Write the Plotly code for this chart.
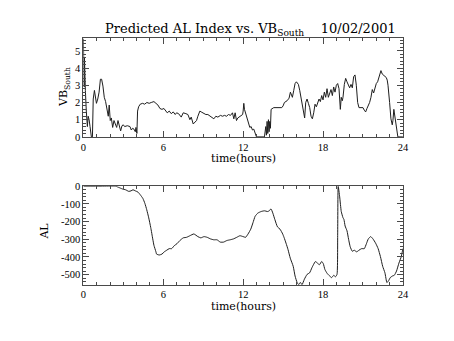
import plotly.graph_objects as go

# Southward IMF component (VB_South) through the day
hours_vb = [0.0, 0.02, 0.04, 0.06, 0.08, 0.1, 0.15, 0.22, 0.3, 0.36, 0.43, 0.5, 0.6, 0.68,
            0.74, 0.83, 0.9, 0.98, 1.08, 1.18, 1.28, 1.37, 1.47, 1.57, 1.67, 1.77, 1.87,
            1.94, 1.97, 2.02, 2.1, 2.2, 2.3, 2.4, 2.5, 2.6, 2.7, 2.8, 2.9, 3.0, 3.1, 3.3,
            3.5, 3.6, 3.7, 3.8, 3.9, 3.95, 4.02, 4.07, 4.15, 4.27, 4.45, 4.6, 4.77, 4.94,
            5.1, 5.3, 5.45, 5.6, 5.75, 5.9, 6.05, 6.2, 6.3, 6.45, 6.6, 6.75, 6.9, 7.0,
            7.15, 7.35, 7.5, 7.7, 7.85, 8.0, 8.1, 8.25, 8.35, 8.5, 8.6, 8.75, 8.85, 9.0,
            9.2, 9.35, 9.5, 9.65, 9.8, 9.95, 10.1, 10.3, 10.45, 10.6, 10.75, 10.9, 11.05,
            11.2, 11.3, 11.4, 11.5, 11.6, 11.7, 11.85, 11.96, 12.0, 12.05, 12.1, 12.2,
            12.3, 12.4, 12.5, 12.6, 12.7, 12.8, 12.9, 13.0, 13.6, 13.7, 13.75, 13.8,
            13.85, 13.9, 13.95, 14.0, 14.05, 14.1, 14.3, 14.6, 14.9, 15.0, 15.1, 15.3,
            15.45, 15.55, 15.62, 15.7, 15.8, 15.9, 16.0, 16.15, 16.25, 16.35, 16.45,
            16.55, 16.62, 16.7, 16.8, 16.9, 17.0, 17.1, 17.2, 17.3, 17.4, 17.5, 17.6,
            17.7, 17.8, 17.9, 18.0, 18.1, 18.2, 18.3, 18.4, 18.5, 18.6, 18.7, 18.8, 18.9,
            19.0, 19.1, 19.2, 19.3, 19.37, 19.45, 19.5, 19.6, 19.7, 19.8, 19.9, 20.0,
            20.1, 20.2, 20.3, 20.4, 20.5, 20.6, 20.7, 20.9, 21.0, 21.1, 21.2, 21.3, 21.4,
            21.5, 21.6, 21.7, 21.8, 21.9, 22.0, 22.1, 22.2, 22.3, 22.35, 22.45, 22.55,
            22.65, 22.75, 22.82, 22.88, 23.0, 23.1, 23.2, 23.25, 23.32, 23.4, 23.5,
            23.62, 24.0]
vb_south = [5.7, 3.0, 5.5, 2.9, 4.6, 2.8, 2.7, 1.5, 0.6, 1.2, 1.0, 0.6, 0.0, 0.0,
            2.2, 2.7, 2.4, 1.95, 2.2, 2.6, 3.35, 3.35, 2.95, 2.3, 2.05, 1.7, 1.2,
            1.85, 1.2, 0.95, 1.1, 0.55, 0.95, 0.75, 0.55, 0.95, 0.7, 0.35, 0.65, 0.7,
            0.6, 0.65, 0.6, 0.4, 0.5, 0.45, 0.3, 0.55, 0.2, 1.5, 1.75, 1.9, 1.95, 1.9,
            2.0, 1.95, 2.0, 2.05, 1.95, 1.85, 1.65, 1.6, 1.65, 1.5, 1.4, 1.5, 1.35,
            1.45, 1.3, 1.4, 1.35, 1.15, 1.4, 1.35, 1.3, 1.0, 1.15, 0.75, 0.85, 0.95,
            1.2, 1.5, 1.45, 1.4, 1.3, 1.3, 1.2, 1.1, 1.05, 1.2, 1.15, 1.25, 1.2, 1.25,
            1.2, 1.3, 1.25, 1.4, 1.05, 1.4, 0.95, 1.1, 1.15, 1.25, 1.3, 1.5, 1.95, 1.6,
            1.3, 1.1, 0.85, 0.55, 0.6, 0.4, 0.45, 0.15, 0.0, 0.0, 0.6, 0.1, 0.9, 0.2,
            1.0, 0.3, 0.9, 0.5, 1.6, 1.7, 1.7, 1.7, 1.8, 2.0, 2.1, 2.25, 2.6, 2.45, 2.3,
            2.7, 3.1, 3.2, 3.05, 2.7, 2.2, 1.7, 1.45, 1.1, 2.0, 2.2, 1.95, 1.7, 1.2,
            1.05, 1.4, 1.9, 1.75, 2.0, 2.2, 2.05, 2.4, 2.15, 2.6, 2.3, 2.8, 2.3, 2.6,
            2.75, 2.4, 2.9, 2.6, 3.0, 3.1, 2.8, 1.6, 2.3, 2.1, 2.3, 3.05, 3.4, 3.2,
            3.05, 2.85, 3.05, 2.85, 3.5, 3.6, 3.0, 2.0, 1.7, 1.7, 1.7, 1.55, 1.45,
            1.65, 1.8, 2.0, 2.3, 2.75, 2.55, 2.9, 3.1, 3.2, 3.45, 3.6, 3.85, 3.65, 3.6,
            3.55, 3.45, 3.3, 3.0, 2.0, 1.05, 0.7, 0.95, 1.6, 1.2, 0.5, 0.0, 0.0]

# Predicted AL index (nT)
hours_al = [0.0, 1.33, 2.43, 2.67, 2.92, 3.17, 3.41, 3.58, 3.73, 3.9, 4.1, 4.27, 4.47,
            4.62, 4.76, 4.91, 5.06, 5.21, 5.3, 5.45, 5.5, 5.7, 5.9, 6.08, 6.26, 6.45,
            6.63, 6.83, 7.03, 7.25, 7.5, 7.75, 8.0, 8.3, 8.6, 8.82, 9.06, 9.3, 9.55,
            9.8, 10.04, 10.28, 10.53, 10.78, 11.02, 11.27, 11.52, 11.76, 12.0, 12.18,
            12.37, 12.57, 12.74, 12.9, 13.1, 13.35, 13.6, 13.84, 13.96, 14.09, 14.23,
            14.38, 14.58, 14.77, 14.97, 15.07, 15.22, 15.37, 15.54, 15.76, 15.9, 16.05,
            16.17, 16.3, 16.42, 16.6, 16.8, 16.99, 17.16, 17.28, 17.43, 17.58, 17.73,
            17.9, 18.02, 18.14, 18.31, 18.5, 18.65, 18.8, 18.94, 19.05, 19.1, 19.14,
            19.25, 19.37, 19.5, 19.57, 19.66, 19.8, 19.92, 20.04, 20.2, 20.34, 20.53,
            20.7, 20.9, 21.1, 21.26, 21.4, 21.58, 21.75, 21.95, 22.14, 22.31, 22.48,
            22.65, 22.8, 22.92, 23.05, 23.21, 23.35, 23.52, 23.7, 23.88, 24.0]
al_index = [0, 0, 0, -7, -15, -20, -29, -26, -20, -26, -33, -48, -69, -97, -133, -179,
            -234, -298, -334, -371, -384, -389, -384, -371, -362, -353, -353, -336, -325,
            -307, -292, -289, -280, -270, -285, -292, -285, -289, -298, -303, -303, -316,
            -316, -307, -303, -298, -289, -280, -285, -289, -270, -243, -206, -170, -152,
            -143, -139, -143, -139, -128, -152, -188, -230, -243, -270, -289, -322, -358,
            -407, -453, -508, -544, -557, -544, -557, -526, -499, -490, -462, -444, -426,
            -435, -444, -426, -438, -471, -493, -508, -517, -504, -512, -499, -270, 0,
            -60, -143, -178, -188, -225, -252, -300, -342, -368, -362, -371, -362, -353,
            -353, -325, -298, -285, -298, -322, -353, -398, -453, -490, -545, -535,
            -517, -508, -504, -480, -435, -398, -353, -329]

time_ticks = [0, 6, 12, 18, 24]
vb_ticks = [0, 1, 2, 3, 4, 5]
al_ticks = [0, -100, -200, -300, -400, -500]
al_tick_text = ["0", "-100", "-200", "-300", "-400", "-500"]

W, H = 454, 341
FRAME = "#4a4a4a"
LINE = "#1e1e1e"
SERIF = "DejaVu Serif"
TICK_FONT = dict(family="Liberation Serif", size=10.5, color="black")


def fx(px):
    return px / W


def fy(px):
    return 1 - px / H


def axis_style(minor_step, **extra):
    style = dict(
        showline=True, linecolor=FRAME, linewidth=1, mirror="ticks",
        ticks="inside", ticklen=6, tickwidth=1, tickcolor=FRAME,
        showgrid=False, zeroline=False, tickfont=TICK_FONT,
        minor=dict(ticks="inside", ticklen=3, tickwidth=1, tickcolor=FRAME,
                   dtick=minor_step, showgrid=False),
    )
    style.update(extra)
    return style


def label(text, x, y, size=11, angle=0, anchor="center"):
    return dict(text=text, x=fx(x), y=fy(y), xref="paper", yref="paper",
                xanchor=anchor, yanchor="middle", textangle=angle, showarrow=False,
                font=dict(family=SERIF, size=size, color="black"))


fig = go.Figure()
fig.add_trace(go.Scatter(x=hours_vb, y=vb_south, mode="lines",
                         line=dict(color=LINE, width=1), xaxis="x", yaxis="y",
                         showlegend=False))
fig.add_trace(go.Scatter(x=hours_al, y=al_index, mode="lines",
                         line=dict(color=LINE, width=1, shape="spline", smoothing=0.5),
                         xaxis="x2", yaxis="y2", showlegend=False))

fig.update_layout(
    width=W, height=H,
    margin=dict(l=0, r=0, t=0, b=0),
    paper_bgcolor="white", plot_bgcolor="white",
    font=dict(family=SERIF, color="black"),
    xaxis=axis_style(1, domain=[fx(82), fx(408)], anchor="y", range=[0, 24],
                     tickmode="array", tickvals=time_ticks),
    yaxis=axis_style(0.2, domain=[fy(136.3), fy(34)], anchor="x", range=[0, 5.75],
                     tickmode="array", tickvals=vb_ticks),
    xaxis2=axis_style(1, domain=[fx(82), fx(408)], anchor="y2", range=[0, 24],
                      tickmode="array", tickvals=time_ticks),
    yaxis2=axis_style(20, domain=[fy(289), fy(187.3)], anchor="x2", range=[-557, 0],
                      tickmode="array", tickvals=al_ticks, ticktext=al_tick_text),
    annotations=[
        label("Predicted AL Index vs. VB<sub>South</sub>\u00a0\u00a0\u00a0\u00a010/02/2001",
              102, 25, size=13, anchor="left"),
        label("time(hours)", 245, 158.5),
        label("time(hours)", 245, 311.5),
        label("VB<sub>South</sub>", 63, 85, angle=-90),
        label("AL", 42, 234, angle=-90),
    ],
)

fig.write_html("out.html")
